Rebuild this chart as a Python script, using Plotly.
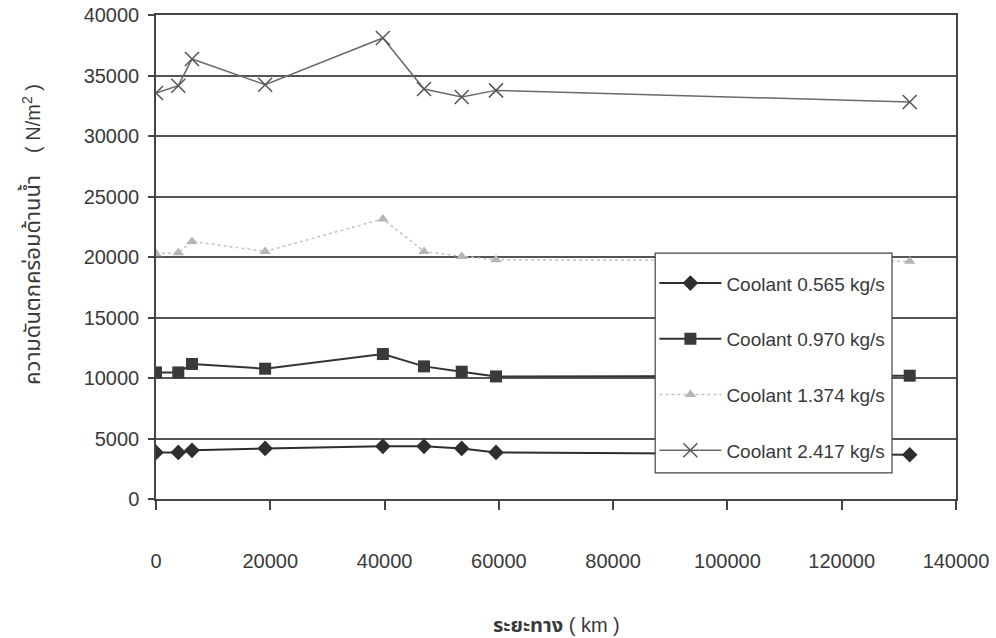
import plotly.graph_objects as go

# Distance travelled (km) at each measurement
distance_km = [0, 3900, 6300, 19100, 39700, 46900, 53500, 59500, 131900]

# Water-side pressure drop (N/m^2) for each coolant flow rate
dp_0565 = [3850, 3850, 4020, 4180, 4350, 4350, 4180, 3850, 3660]
dp_0970 = [10460, 10460, 11160, 10770, 11980, 10960, 10520, 10130, 10190]
dp_1374 = [20270, 20350, 21290, 20460, 23140, 20460, 20050, 19780, 19640]
dp_2417 = [33550, 34160, 36360, 34240, 38100, 33880, 33220, 33770, 32810]

series_names = [
    "Coolant 0.565 kg/s",
    "Coolant 0.970 kg/s",
    "Coolant 1.374 kg/s",
    "Coolant 2.417 kg/s",
]

x_ticks = [0, 20000, 40000, 60000, 80000, 100000, 120000, 140000]
y_ticks = [0, 5000, 10000, 15000, 20000, 25000, 30000, 35000, 40000]

FONT = "Liberation Sans, Arial, Noto Sans Thai, sans-serif"
TEXT = "#3a3a3a"

styles = [
    dict(line=dict(color="#2e2e2e", width=2),
         marker=dict(symbol="diamond", size=12, color="#2e2e2e")),
    dict(line=dict(color="#333333", width=2),
         marker=dict(symbol="square", size=12, color="#3a3a3a")),
    dict(line=dict(color="#c4c4c4", width=1.5, dash="dot"),
         marker=dict(symbol="triangle-up", size=10, color="#b5b5b5")),
    dict(line=dict(color="#6a6a6a", width=1.5),
         marker=dict(symbol="x-thin", size=14, color="#555555",
                     line=dict(color="#555555", width=1.5))),
]

fig = go.Figure()
for i, (name, ys) in enumerate(zip(series_names, [dp_0565, dp_0970, dp_1374, dp_2417])):
    fig.add_trace(go.Scatter(
        x=distance_km, y=ys, name=name, mode="lines+markers",
        legendgroup=f"g{i}", **styles[i],
    ))

# White framed panel behind the legend entries; it hides the lines passing under it
fig.add_shape(
    type="rect", xref="paper", yref="paper",
    x0=0.624, x1=0.92, y0=0.054, y1=0.508,
    fillcolor="white", line=dict(color="#444444", width=1.2), layer="above",
)

fig.update_layout(
    width=996, height=638,
    margin=dict(l=156, r=40, t=15, b=139, autoexpand=False),
    paper_bgcolor="white", plot_bgcolor="white",
    font=dict(family=FONT, size=20, color=TEXT),
    showlegend=True,
    legend=dict(
        x=0.623, y=0.485, xanchor="left", yanchor="top",
        bgcolor="rgba(0,0,0,0)", borderwidth=0,
        font=dict(family=FONT, size=19, color=TEXT),
        tracegroupgap=28, itemwidth=62,
    ),
    xaxis=dict(
        range=[0, 140000], tickvals=x_ticks, ticktext=[str(v) for v in x_ticks],
        showgrid=False, zeroline=False, automargin=False,
        showline=True, linecolor="#444444", linewidth=1.5, mirror=True,
        ticks="outside", ticklen=9, tickcolor="#444444", tickwidth=1.5,
        ticklabelstandoff=34,
    ),
    yaxis=dict(
        range=[0, 40000], tickvals=y_ticks, ticktext=[str(v) for v in y_ticks],
        showgrid=True, gridcolor="#555555", gridwidth=1.5, zeroline=False,
        automargin=False,
        showline=True, linecolor="#444444", linewidth=1.5, mirror=True,
        ticks="outside", ticklen=6, tickcolor="#444444", tickwidth=1.5,
        ticklabelstandoff=5,
    ),
    annotations=[
        dict(text="<span style='font-size:22px'>ความดันตกคร่อมด้านน้ำ</span>    ( N/m<sup>2</sup> )",
             xref="paper", yref="paper", x=-0.156, y=0.546,
             xanchor="center", yanchor="middle", textangle=-90,
             showarrow=False, font=dict(family=FONT, size=20, color=TEXT)),
        dict(text="<b>ระยะทาง</b> ( km )",
             xref="paper", yref="paper", x=0.5, y=-0.26,
             xanchor="center", yanchor="middle",
             showarrow=False, font=dict(family=FONT, size=20, color=TEXT)),
    ],
)

fig.write_html("out.html")
